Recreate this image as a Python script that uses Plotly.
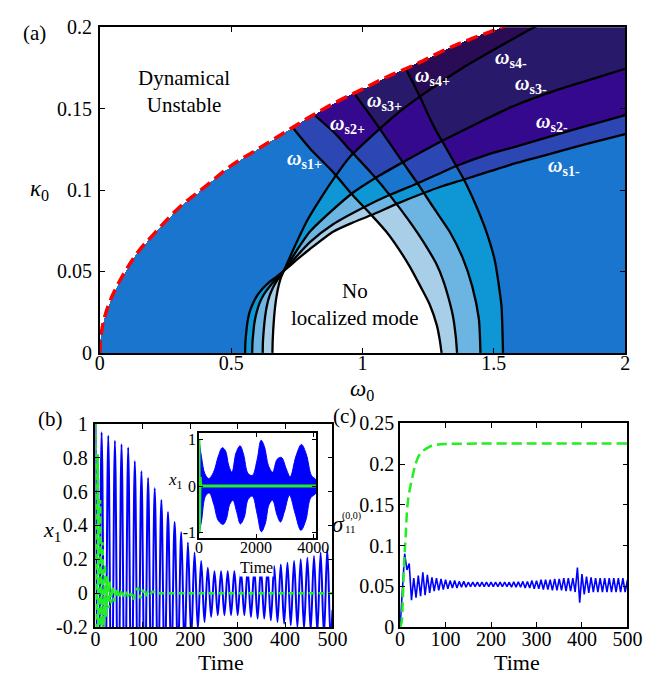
import numpy as np
import plotly.graph_objects as go

FONT = "Liberation Serif, Times New Roman, Times, serif"
W_PX, H_PX = 671, 683

def fx(px):
    return px / W_PX

def fy(py):
    return 1 - py / H_PX

# ---------------- panel (a) data ----------------
red_w = [0, 0.005, 0.02, 0.05, 0.1, 0.15, 0.2, 0.3, 0.4, 0.5, 0.6, 0.7, 0.8, 0.9, 1.0, 1.1, 1.2, 1.3, 1.4, 1.5, 1.53, 1.6]
red_k = [0, 0.0115, 0.023, 0.036, 0.051, 0.063, 0.072, 0.089, 0.102, 0.115, 0.125, 0.135, 0.145, 0.154, 0.162, 0.170, 0.177, 0.185, 0.192, 0.198, 0.200, 0.205]

# "-" branches (kappa as function of omega)
s1m_w = [0.553, 0.554, 0.557, 0.562, 0.570, 0.582, 0.598, 0.620, 0.645, 0.672, 0.700, 0.75, 0.80, 0.888, 0.96, 1.036, 1.13, 1.233, 1.30, 1.387, 1.49, 1.590, 1.701, 1.85, 2.0]
s1m_k = [0, 0.006, 0.012, 0.0189, 0.025, 0.030, 0.035, 0.0395, 0.0435, 0.0466, 0.0503, 0.0572, 0.0638, 0.0744, 0.0798, 0.0848, 0.0915, 0.0982, 0.1022, 0.1065, 0.1118, 0.1168, 0.1216, 0.1282, 0.1343]
s2m_w = [0.580, 0.581, 0.584, 0.589, 0.597, 0.609, 0.625, 0.645, 0.672, 0.700, 0.75, 0.80, 0.888, 1.011, 1.10, 1.208, 1.362, 1.47, 1.590, 1.80, 2.0]
s2m_k = [0, 0.006, 0.012, 0.019, 0.025, 0.031, 0.036, 0.0405, 0.0455, 0.0503, 0.0595, 0.068, 0.079, 0.0899, 0.0968, 0.104, 0.1151, 0.1215, 0.127, 0.137, 0.146]
s3m_w = [0.620, 0.621, 0.624, 0.629, 0.636, 0.646, 0.659, 0.676, 0.700, 0.75, 0.80, 0.876, 0.962, 1.06, 1.153, 1.313, 1.45, 1.578, 1.75, 1.91, 2.0]
s3m_k = [0, 0.007, 0.014, 0.022, 0.029, 0.035, 0.040, 0.0448, 0.0503, 0.063, 0.0745, 0.0863, 0.0982, 0.1085, 0.117, 0.131, 0.142, 0.1518, 0.162, 0.170, 0.1745]
s4m_w = [0.657, 0.658, 0.660, 0.663, 0.667, 0.673, 0.681, 0.690, 0.700, 0.745, 0.790, 0.845, 0.895, 0.950, 1.061, 1.14, 1.221, 1.381, 1.52, 1.654, 1.75]
s4m_k = [0, 0.007, 0.014, 0.021, 0.028, 0.035, 0.0415, 0.0465, 0.0503, 0.0665, 0.0815, 0.096, 0.1081, 0.120, 0.1369, 0.148, 0.1577, 0.175, 0.188, 0.200, 0.207]

# "+" branches (omega as function of kappa, kappa increasing)
s1p_w = [1.301, 1.294, 1.283, 1.255, 1.221, 1.18, 1.135, 1.09, 1.036, 0.962, 0.888, 0.80, 0.734]
s1p_k = [0, 0.008, 0.0169, 0.030, 0.0407, 0.053, 0.0645, 0.0745, 0.0843, 0.097, 0.111, 0.1255, 0.1384]
s2p_w = [1.360, 1.355, 1.344, 1.327, 1.307, 1.28, 1.246, 1.21, 1.172, 1.092, 1.024, 0.950, 0.901, 0.815]
s2p_k = [0, 0.010, 0.0228, 0.034, 0.0446, 0.055, 0.0645, 0.0735, 0.0823, 0.0992, 0.1121, 0.125, 0.1339, 0.1464]
s3p_w = [1.449, 1.447, 1.443, 1.418, 1.381, 1.332, 1.270, 1.209, 1.153, 1.073, 1.02, 0.969]
s3p_k = [0, 0.010, 0.0208, 0.0407, 0.0585, 0.0744, 0.0893, 0.1042, 0.1171, 0.1359, 0.148, 0.1592]
s4p_w = [1.535, 1.533, 1.529, 1.504, 1.467, 1.430, 1.387, 1.356, 1.307, 1.28, 1.245, 1.221, 1.19, 1.165]
s4p_k = [0, 0.012, 0.0288, 0.0565, 0.0764, 0.0913, 0.1062, 0.1151, 0.129, 0.1365, 0.148, 0.1565, 0.1665, 0.1745]

level_colors = ["#ffffff", "#a9cfe8", "#6cb4e1", "#0f96d4", "#1a75cf",
                "#2c46b4", "#34098e", "#29196b", "#2a0b55"]

mode_labels = ["s1+", "s2+", "s3+", "s4+", "s4-", "s3-", "s2-", "s1-"]
mode_label_w = [0.778, 0.944, 1.084, 1.265, 1.565, 1.642, 1.72, 1.768]
mode_label_k = [0.1185, 0.1405, 0.1542, 0.170, 0.181, 0.165, 0.1417, 0.1143]

# ---------------- panel (b) data ----------------
b_blue_t = [0, 6, 13, 20, 27, 34, 41, 48, 55, 62, 69, 76, 83, 90, 97, 104, 111, 118, 125, 132,
            139, 146, 153, 160, 167, 174, 181, 188, 195, 202, 209, 216, 223, 230, 237, 244, 251,
            258, 265, 272, 279, 286, 293, 300, 307, 314, 321, 328, 335, 342, 349, 356, 363, 370,
            377, 384, 391, 398, 405, 412, 419, 426, 433, 440, 447, 454, 461, 468, 475, 482, 489,
            496, 500]
b_blue_v = [1.0, -0.97, 0.95, -0.94, 0.93, -0.92, 0.90, -0.89, 0.88, -0.87, 0.86, -0.82, 0.78,
            -0.75, 0.72, -0.70, 0.68, -0.65, 0.62, -0.58, 0.55, -0.51, 0.48, -0.45, 0.42, -0.39,
            0.36, -0.33, 0.30, -0.27, 0.24, -0.21, 0.19, -0.17, 0.15, -0.14, 0.13, -0.13, 0.13,
            -0.13, 0.13, -0.13, 0.13, -0.13, 0.13, -0.13, 0.14, -0.14, 0.14, -0.15, 0.15, -0.15,
            0.15, -0.16, 0.16, -0.17, 0.17, -0.18, 0.18, -0.19, 0.19, -0.20, 0.20, -0.21, 0.21,
            -0.22, 0.22, -0.23, 0.24, -0.25, 0.26, -0.27, -0.1]
b_green_t = [0, 2.5, 5, 7.5, 10, 12.5, 15, 17.5, 20, 22.5, 25, 27.5, 30, 33, 36, 40, 45, 50, 55,
             60, 65, 70, 75, 80, 85, 90, 95, 100, 105, 110, 115, 120, 130, 140, 500]
b_green_v = [1.0, -0.7, 0.82, -0.55, 0.55, -0.4, 0.3, -0.22, 0.17, -0.14, 0.1, -0.09, 0.07,
             -0.06, 0.04, -0.05, 0.03, -0.03, 0.02, -0.02, 0.01, -0.03, 0.0, -0.04, 0.02, 0.03,
             -0.03, 0.02, -0.02, 0.01, -0.01, 0.01, 0.0, 0.0, 0.0]

# inset of (b)
in_up_t = [0, 90, 204, 340, 510, 680, 815, 930, 1040, 1155, 1300, 1440, 1560, 1720, 1870, 2040,
           2175, 2290, 2435, 2580, 2740, 2890, 3060, 3195, 3400, 3590, 3760, 3940, 4100]
in_up_v = [1.0, 0.62, 0.27, 0.16, 0.30, 0.65, 0.83, 0.76, 0.45, 0.30, 0.72, 0.87, 0.69, 0.27,
           0.23, 0.58, 0.99, 0.86, 0.44, 0.30, 0.58, 0.62, 0.37, 0.20, 0.65, 0.90, 0.69, 0.23, 0.13]
in_lo_t = [0, 90, 226, 362, 520, 680, 850, 962, 1075, 1190, 1325, 1450, 1585, 1720, 1870, 2040,
           2185, 2320, 2455, 2580, 2740, 2855, 3000, 3170, 3375, 3570, 3740, 3910, 4100]
in_lo_v = [-1.03, -0.75, -0.22, -0.15, -0.40, -0.75, -0.83, -0.71, -0.40, -0.31, -0.57, -0.82,
           -0.68, -0.29, -0.22, -0.61, -0.99, -0.82, -0.40, -0.31, -0.64, -0.78, -0.54, -0.20,
           -0.61, -0.96, -0.75, -0.26, -0.15]
in_green_t = [0, 8, 16, 24, 40, 60, 4100]
in_green_v = [1.0, -1.0, 0.8, -0.5, 0.2, 0.0, 0.0]

# ---------------- panel (c) data ----------------
c_blue_t = [0, 5, 10, 15, 20, 25, 30, 35, 40, 45, 50, 55, 60, 65, 70, 75, 80, 85, 90, 95, 100,
            105, 110, 115, 120, 125, 130, 135, 140, 145, 150, 155, 160, 165, 170, 175, 180, 185,
            190, 195, 200, 205, 210, 215, 220, 225, 230, 235, 240, 245, 250, 255, 260, 265, 270,
            275, 280, 285, 290, 295, 300, 305, 310, 315, 320, 325, 330, 335, 340, 345, 350, 355,
            360, 365, 370, 375, 380, 385, 390, 395, 400, 405, 410, 415, 420, 425, 430, 435, 440,
            445, 450, 455, 460, 465, 470, 475, 480, 485, 490, 495, 500]
c_blue_v = [0.0, 0.045, 0.09, 0.07, 0.078, 0.033, 0.06, 0.036, 0.063, 0.038, 0.067, 0.039, 0.064,
            0.042, 0.061, 0.044, 0.060, 0.045, 0.059, 0.046, 0.058, 0.047, 0.057, 0.048, 0.057,
            0.048, 0.056, 0.049, 0.056, 0.049, 0.055, 0.0495, 0.055, 0.0495, 0.055, 0.0495,
            0.055, 0.0495, 0.055, 0.0495, 0.055, 0.0495, 0.055, 0.0495, 0.055, 0.0495, 0.055,
            0.0495, 0.055, 0.049, 0.0555, 0.049, 0.0555, 0.049, 0.056, 0.048, 0.056, 0.048,
            0.057, 0.047, 0.057, 0.047, 0.058, 0.046, 0.058, 0.046, 0.058, 0.045, 0.059, 0.045,
            0.059, 0.045, 0.060, 0.044, 0.060, 0.044, 0.060, 0.043, 0.073, 0.030, 0.065, 0.040,
            0.062, 0.042, 0.061, 0.043, 0.060, 0.043, 0.060, 0.043, 0.060, 0.043, 0.060, 0.043,
            0.060, 0.043, 0.060, 0.043, 0.060, 0.043, 0.058]
c_green_t = [0, 3, 6, 9, 12, 16, 20, 27, 34, 41, 50, 66, 80, 100, 150, 500]
c_green_v = [0, 0.005, 0.035, 0.08, 0.11, 0.148, 0.165, 0.184, 0.2, 0.21, 0.216, 0.2215,
             0.2235, 0.2245, 0.225, 0.225]

# ---------------- build level map for (a) ----------------
minus_curves = [(s1m_w, s1m_k), (s2m_w, s2m_k), (s3m_w, s3m_k), (s4m_w, s4m_k)]
plus_curves = [(s1p_w, s1p_k), (s2p_w, s2p_k), (s3p_w, s3p_k), (s4p_w, s4p_k)]

gw = np.linspace(0, 2, 541)
gk = np.linspace(0, 0.2, 339)
W, K = np.meshgrid(gw, gk)
Z = np.zeros_like(W)
for mw, mk in minus_curves:
    f = np.interp(W, mw, mk)
    Z += ((W < mw[0]) | (K > f)).astype(float)
for pw, pk in plus_curves:
    g = np.interp(K, pk, pw)
    Z += (W > g).astype(float)
Z[K > np.interp(W, red_w, red_k)] = np.nan
Z = Z.astype(np.float32)

cs = []
n = len(level_colors)
for i, c in enumerate(level_colors):
    cs.append([i / n, c])
    cs.append([(i + 1) / n, c])

fig = go.Figure()

fig.add_trace(go.Heatmap(x=gw, y=gk, z=Z, colorscale=cs, zmin=-0.5, zmax=n - 0.5,
                         showscale=False, hoverinfo="skip", xaxis="x", yaxis="y"))
for mw, mk in minus_curves + [(pw, pk) for pw, pk in plus_curves]:
    fig.add_trace(go.Scatter(x=mw, y=mk, mode="lines",
                             line=dict(color="black", width=2.3, shape="spline", smoothing=0.6),
                             xaxis="x", yaxis="y", showlegend=False, hoverinfo="skip"))
fig.add_trace(go.Scatter(x=red_w, y=red_k, mode="lines",
                         line=dict(color="#ff0000", width=3.5, dash="12px,6px", shape="spline"),
                         xaxis="x", yaxis="y", showlegend=False, hoverinfo="skip"))

# panel (b)
fig.add_trace(go.Scatter(x=b_blue_t, y=b_blue_v, mode="lines", line=dict(color="#0000ff", width=2, shape="spline"),
                         xaxis="x2", yaxis="y2", showlegend=False))
fig.add_trace(go.Scatter(x=b_green_t, y=b_green_v, mode="lines",
                         line=dict(color="#22ee22", width=2.5, dash="6px,4px"),
                         xaxis="x2", yaxis="y2", showlegend=False))
# inset
fig.add_trace(go.Scatter(x=in_up_t + in_lo_t[::-1], y=in_up_v + in_lo_v[::-1], mode="lines",
                         fill="toself", fillcolor="#0000ff", line=dict(color="#0000ff", width=1, shape="spline"),
                         xaxis="x4", yaxis="y4", showlegend=False))
fig.add_trace(go.Scatter(x=in_green_t, y=in_green_v, mode="lines", line=dict(color="#22ee22", width=3),
                         xaxis="x4", yaxis="y4", showlegend=False))
# panel (c)
fig.add_trace(go.Scatter(x=c_blue_t, y=c_blue_v, mode="lines", line=dict(color="#0000ff", width=1.6),
                         xaxis="x3", yaxis="y3", showlegend=False))
fig.add_trace(go.Scatter(x=c_green_t, y=c_green_v, mode="lines",
                         line=dict(color="#22ee22", width=2.5, dash="10px,5px", shape="spline"),
                         xaxis="x3", yaxis="y3", showlegend=False))

ax = dict(showline=True, linecolor="black", linewidth=1.5, mirror="ticks", ticks="inside",
          ticklen=5, tickwidth=1.2, tickcolor="black", showgrid=False, zeroline=False,
          tickfont=dict(family=FONT, size=20, color="black"))
yax = dict(ax, ticklabelstandoff=2)
inax = dict(ax, tickfont=dict(family=FONT, size=16, color="black"), ticklen=4)

fig.update_layout(
    width=W_PX, height=H_PX, margin=dict(l=0, r=0, t=0, b=0),
    paper_bgcolor="white", plot_bgcolor="white",
    font=dict(family=FONT, color="black"),
    xaxis=dict(ax, ticklabelstandoff=-9, domain=[fx(89.5), fx(631)], range=[0, 2],
               tickvals=[0, 0.5, 1, 1.5, 2], anchor="y"),
    yaxis=dict(yax, domain=[fy(345), fy(8.5)], range=[0, 0.2], tickvals=[0, 0.05, 0.1, 0.15, 0.2], anchor="x"),
    xaxis2=dict(ax, ticklabelstandoff=-7, domain=[fx(85), fx(329.3)], range=[0, 500],
                tickvals=[0, 100, 200, 300, 400, 500], anchor="y2"),
    yaxis2=dict(yax, domain=[fy(628.3), fy(418.3)], range=[-0.2, 1],
                tickvals=[-0.2, 0, 0.2, 0.4, 0.6, 0.8, 1],
                ticktext=["-0.2", "0", "0.2", "0.4", "0.6", "0.8", "1"], anchor="x2"),
    xaxis3=dict(ax, ticklabelstandoff=-7, domain=[fx(399), fx(633.3)], range=[0, 500],
                tickvals=[0, 100, 200, 300, 400, 500], anchor="y3"),
    yaxis3=dict(ax, ticklabelstandoff=0, domain=[fy(628.3), fy(417.7)], range=[0, 0.25],
                tickvals=[0, 0.05, 0.1, 0.15, 0.2, 0.25], anchor="x3"),
    xaxis4=dict(inax, domain=[fx(191.7), fx(312.3)], range=[0, 4100], tickvals=[0, 2000, 4000],
                ticklabelstandoff=-6, anchor="y4"),
    yaxis4=dict(inax, domain=[fy(536), fy(427.7)], range=[-1.12, 1.15], tickvals=[-1, 0, 1],
                ticktext=["-1", "0", "1"], ticklabelstandoff=-2, anchor="x4"),
)

ann = []

def add_text(text, x, y, size, color="black", bg=None):
    d = dict(text=text, x=fx(x), y=fy(y), xref="paper", yref="paper", showarrow=False,
             xanchor="center", yanchor="middle", font=dict(family=FONT, size=size, color=color))
    if bg:
        d["bgcolor"] = bg
        d["borderpad"] = 0
    ann.append(d)

add_text("(a)", 22, 14, 21)
add_text("(b)", 39, 413, 21)
add_text("(c)", 342, 410, 21)
add_text("<i>κ</i><sub>0</sub>", 27, 177, 23)
add_text("<i>ω</i><sub>0</sub>", 360, 383, 23)
add_text("<i>x</i><sub>1</sub>", 40, 529, 22)
add_text("Time", 214, 665, 22)
add_text("Time", 519, 665, 22)
add_text("<i>x</i><sub>1</sub>", 168, 477, 17)
add_text("Time", 251, 567, 16, bg="white")
add_text("<i>σ</i>", 336, 522, 23)
add_text("(0,0)", 349, 514, 10)
add_text("11", 348, 527, 11)
add_text("Dynamical<br>Unstable", 176, 75, 21)
add_text("No<br>localized mode", 353, 295, 21)

for lab, w, k in zip(mode_labels, mode_label_w, mode_label_k):
    ann.append(dict(text=f"<b><i>ω</i><sub>{lab}</sub></b>", x=w, y=k, xref="x", yref="y",
                    showarrow=False, xanchor="center", yanchor="middle",
                    font=dict(family=FONT, size=20, color="white")))

fig.update_layout(annotations=ann)
fig.write_html("out.html")
